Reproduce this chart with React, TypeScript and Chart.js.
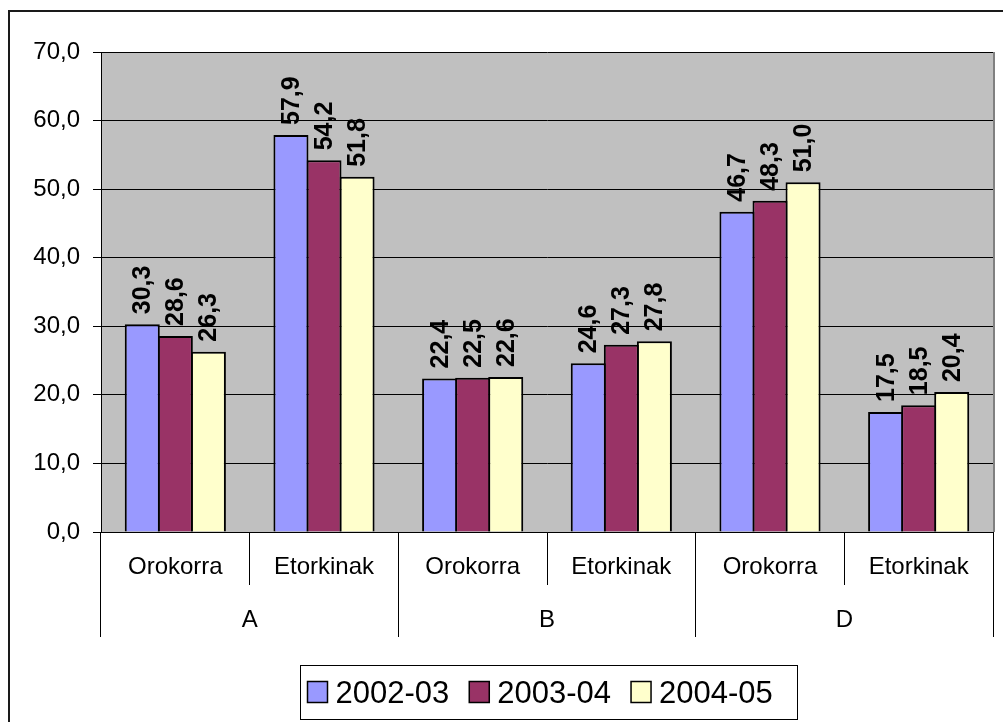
import React, { useEffect, useRef } from "react";
import { Chart, registerables } from "chart.js";

Chart.register(...registerables);

// ---- data ----
const subCategories = ["Orokorra", "Etorkinak", "Orokorra", "Etorkinak", "Orokorra", "Etorkinak"];
const groupLabels = ["A", "B", "D"];
const seriesLabels = ["2002-03", "2003-04", "2004-05"];
const values200203 = [30.3, 57.9, 22.4, 24.6, 46.7, 17.5];
const values200304 = [28.6, 54.2, 22.5, 27.3, 48.3, 18.5];
const values200405 = [26.3, 51.8, 22.6, 27.8, 51.0, 20.4];
const seriesColors = ["#9999FF", "#993366", "#FFFFCC"];
const yMin = 0;
const yMax = 70;
const yStep = 10;

const FONT = 'Arial, "Liberation Sans", sans-serif';
const fmt = (v: number) => v.toFixed(1).replace(".", ",");

const chromePlugin = {
  id: "chrome",
  beforeDraw(chart: any) {
    const { ctx, chartArea, width, height } = chart;
    ctx.save();
    ctx.fillStyle = "#FFFFFF";
    ctx.fillRect(0, 0, width, height);
    // outer border (top & left visible)
    ctx.fillStyle = "#1a1a1a";
    ctx.fillRect(0, 2, width, 2);
    ctx.fillRect(0, 2, 2, height - 2);
    // plot area
    ctx.fillStyle = "#C0C0C0";
    ctx.fillRect(chartArea.left, chartArea.top, chartArea.right - chartArea.left, chartArea.bottom - chartArea.top);
    ctx.restore();
  },
  afterDraw(chart: any) {
    const { ctx, chartArea } = chart;
    ctx.save();
    ctx.strokeStyle = "#808080";
    ctx.lineWidth = 2;
    ctx.beginPath();
    ctx.moveTo(chartArea.right + 1, chartArea.top);
    ctx.lineTo(chartArea.right + 1, chartArea.bottom);
    ctx.stroke();

    // legend
    const boxW = 497;
    const boxH = 54;
    const cx = (chartArea.left + chartArea.right) / 2 + 1;
    const left = Math.round(cx - boxW / 2) + 0.5;
    const top = 657.5;
    ctx.fillStyle = "#FFFFFF";
    ctx.fillRect(left, top, boxW, boxH);
    ctx.strokeStyle = "#000000";
    ctx.lineWidth = 1;
    ctx.strokeRect(left, top, boxW, boxH);
    ctx.font = `31px ${FONT}`;
    ctx.textBaseline = "alphabetic";
    ctx.textAlign = "left";
    let x = left + 7;
    chart.data.datasets.forEach((ds: any) => {
      ctx.fillStyle = ds.backgroundColor;
      ctx.fillRect(x, 673.5, 20, 21);
      ctx.strokeStyle = "#000";
      ctx.lineWidth = 1.5;
      ctx.strokeRect(x, 673.5, 20, 21);
      ctx.fillStyle = "#000";
      ctx.fillText(ds.label, x + 28, 695);
      x += 28 + ctx.measureText(ds.label).width + 20;
    });
    ctx.restore();
  },
  afterDatasetsDraw(chart: any) {
    const { ctx } = chart;
    ctx.save();
    ctx.font = `bold 25px ${FONT}`;
    ctx.fillStyle = "#000";
    ctx.textAlign = "left";
    ctx.textBaseline = "middle";
    chart.data.datasets.forEach((ds: any, i: number) => {
      const meta = chart.getDatasetMeta(i);
      meta.data.forEach((bar: any, j: number) => {
        ctx.save();
        ctx.translate(bar.x + 1, bar.y - 10);
        ctx.rotate(-Math.PI / 2);
        ctx.fillText(fmt(ds.data[j]), 0, 0);
        ctx.restore();
      });
    });
    ctx.restore();
  },
};

export default function App() {
  const ref = useRef<HTMLCanvasElement>(null);
  useEffect(() => {
    const series = [values200203, values200304, values200405];
    const chart = new Chart(ref.current!, {
      type: "bar",
      data: {
        labels: subCategories,
        datasets: series.map((d, i) => ({
          label: seriesLabels[i],
          data: d,
          backgroundColor: seriesColors[i],
          borderColor: "#000000",
          borderWidth: 2,
          categoryPercentage: 0.667,
          barPercentage: 1.06,
        })),
      },
      options: {
        responsive: false,
        animation: false,
        devicePixelRatio: 1,
        layout: { padding: { top: 44, right: 10, left: 0, bottom: 85 } },
        plugins: { legend: { display: false }, tooltip: { enabled: false } },
        scales: {
          y: {
            position: "left",
            min: yMin,
            max: yMax,
            ticks: {
              stepSize: yStep,
              padding: 13,
              color: "#000",
              font: { family: FONT, size: 24 },
              callback: (v: any) => fmt(Number(v)),
            },
            grid: { color: "#000", tickLength: 8, lineWidth: 1 },
            border: { color: "#000", width: 1 },
            afterFit: (s: any) => {
              s.width = 93;
            },
          },
          x: {
            type: "category",
            position: "bottom",
            weight: 0,
            offset: true,
            ticks: {
              color: "#000",
              font: { family: FONT, size: 24 },
              padding: -32,
              maxRotation: 0,
              autoSkip: false,
            },
            grid: { offset: true, drawOnChartArea: false, drawTicks: true, tickLength: 53, color: "#000" },
            border: { color: "#000", width: 1 },
            afterFit: (s: any) => {
              s.height = 53;
            },
          },
          x2: {
            type: "category",
            position: "bottom",
            weight: 1,
            labels: groupLabels,
            offset: true,
            ticks: {
              color: "#000",
              font: { family: FONT, size: 24 },
              padding: -31,
              maxRotation: 0,
              autoSkip: false,
            },
            grid: { offset: true, drawOnChartArea: false, drawTicks: true, tickLength: 52, color: "#000" },
            border: { display: false },
            afterFit: (s: any) => {
              s.height = 52;
            },
          },
        },
      } as any,
      plugins: [chromePlugin],
    });
    return () => chart.destroy();
  }, []);
  return (
    <div style={{ position: "absolute", left: 8, top: 8, width: 995, height: 714 }}>
      <canvas ref={ref} width={995} height={714} style={{ display: "block", width: 995, height: 714 }} />
    </div>
  );
}
